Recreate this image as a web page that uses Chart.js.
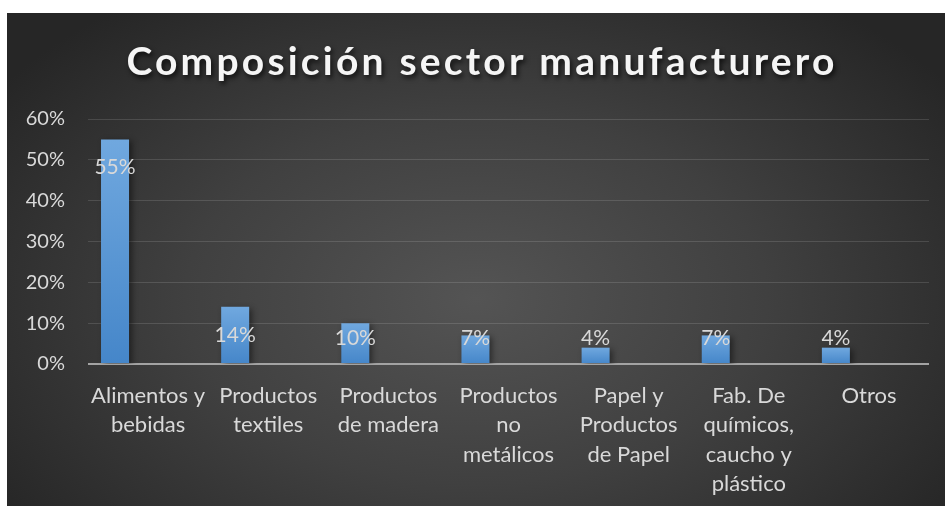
<!DOCTYPE html>
<html>
<head>
<meta charset="utf-8">
<script src="https://cdn.jsdelivr.net/npm/chart.js@4.4.1/dist/chart.umd.min.js"></script>
<style>
  html, body { margin: 0; background: #ffffff; }
  #wrap {
    position: absolute; left: 7px; top: 13px; width: 938px; height: 493px;
    background: radial-gradient(ellipse 62% 75% at 50% 58%, #545454 0%, #404040 50%, #262626 100%);
  }
</style>
</head>
<body>
<div id="wrap"><canvas id="sectorChart"></canvas></div>
<script>
const titleText = 'Composición sector manufacturero';

const categories = [
  ['Alimentos y', 'bebidas'],
  ['Productos', 'textiles'],
  ['Productos', 'de madera'],
  ['Productos', 'no', 'metálicos'],
  ['Papel y', 'Productos', 'de Papel'],
  ['Fab. De', 'químicos,', 'caucho y', 'plástico'],
  ['Otros']
];

// share of the manufacturing sector, in percent
const shares = [55, 14, 10, 7, 4, 7, 4];
const emptySeries = [null, null, null, null, null, null, null];

const yMin = 0;
const yMax = 60;
const yStep = 10;

const textColor = '#d9d9d9';
const fontFamily = 'Lato, "Liberation Sans", sans-serif';

function $(id) {
  return document.getElementById(id) || null;
}

// vertical gradient per bar, lighter at the top
function barFill(ctx) {
  const chart = ctx.chart;
  const y = chart.scales && chart.scales.y;
  if (!y || ctx.parsed == null || ctx.parsed.y == null) return '#5b9bd5';
  const top = y.getPixelForValue(ctx.parsed.y);
  const bottom = y.getPixelForValue(0);
  if (!isFinite(top) || !isFinite(bottom) || bottom - top < 1) return '#5b9bd5';
  const g = chart.ctx.createLinearGradient(0, top, 0, bottom);
  g.addColorStop(0, '#70a8df');
  g.addColorStop(1, '#4586c9');
  return g;
}

const barShadow = {
  id: 'barShadow',
  beforeDatasetDraw(chart) {
    const c = chart.ctx;
    c.save();
    c.shadowColor = 'rgba(0,0,0,0.45)';
    c.shadowBlur = 6;
    c.shadowOffsetX = 3;
    c.shadowOffsetY = 2;
  },
  afterDatasetDraw(chart) {
    chart.ctx.restore();
  }
};

// value labels, inside the top of each bar but never below the base
const valueLabels = {
  id: 'valueLabels',
  afterDatasetsDraw(chart) {
    const c = chart.ctx;
    const meta = chart.getDatasetMeta(0);
    const zeroY = chart.scales.y.getPixelForValue(0);
    c.save();
    c.font = '21px ' + fontFamily;
    c.fillStyle = textColor;
    c.textAlign = 'center';
    c.textBaseline = 'middle';
    meta.data.forEach((bar, i) => {
      const y = Math.min(bar.y + 28, zeroY - 26);
      c.fillText(shares[i] + '%', bar.x, y);
    });
    c.restore();
  }
};

const spacedTitle = {
  id: 'spacedTitle',
  afterDraw(chart) {
    const c = chart.ctx;
    c.save();
    c.font = 'bold 39px ' + fontFamily;
    c.letterSpacing = '3.2px';
    c.textAlign = 'center';
    c.textBaseline = 'middle';
    c.shadowColor = 'rgba(0,0,0,0.7)';
    c.shadowBlur = 5;
    c.shadowOffsetX = 2;
    c.shadowOffsetY = 3;
    c.fillStyle = '#f5f5f5';
    c.fillText(titleText, chart.width / 2 + 6, 49);
    c.restore();
  }
};

const sectorConfig = {
  type: 'bar',
  plugins: [barShadow, valueLabels, spacedTitle],
  data: {
    labels: categories,
    datasets: [
      { data: shares, backgroundColor: barFill },
      { data: emptySeries, backgroundColor: '#ed7d31' }
    ]
  },
  options: {
    responsive: true,
    maintainAspectRatio: false,
    animation: false,
    categoryPercentage: 1.1,
    barPercentage: 0.424,
    layout: { padding: { top: 106, right: 16, left: 0, bottom: 0 } },
    plugins: {
      legend: { display: false },
      title: { display: false },
      tooltip: { enabled: false }
    },
    scales: {
      x: {
        grid: { display: false },
        border: { display: false },
        ticks: {
          autoSkip: false,
          maxRotation: 0,
          minRotation: 0,
          color: textColor,
          padding: 9,
          font: { family: fontFamily, size: 22, lineHeight: 1.34 }
        },
        afterFit(scale) { scale.height = 142; }
      },
      y: {
        min: yMin,
        max: yMax,
        border: { display: false },
        grid: {
          drawTicks: false,
          color: (ctx) => ctx.tick && ctx.tick.value === 0 ? '#a3a3a3' : 'rgba(255,255,255,0.13)',
          lineWidth: (ctx) => ctx.tick && ctx.tick.value === 0 ? 2 : 1
        },
        ticks: {
          stepSize: yStep,
          padding: 23,
          color: textColor,
          font: { family: fontFamily, size: 20 },
          callback: (v) => v + '%'
        },
        afterFit(scale) { scale.width = 81; }
      }
    }
  }
};

new Chart($('sectorChart'), sectorConfig);
</script>
</body>
</html>
